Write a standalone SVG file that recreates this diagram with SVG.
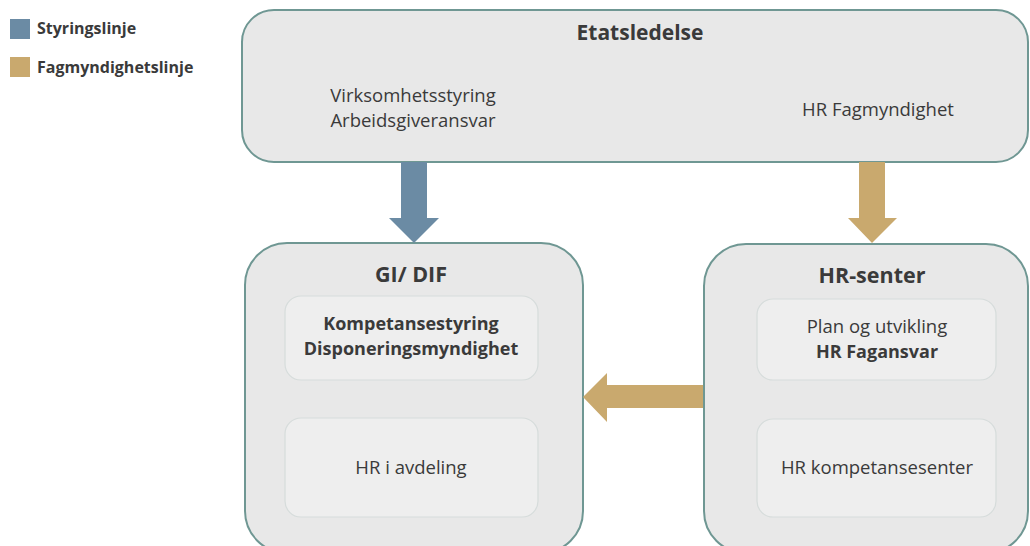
<svg xmlns="http://www.w3.org/2000/svg" width="1030" height="546" viewBox="0 0 1030 546">
<style>
.outer{fill:#e8e8e8;stroke:#6f9793;stroke-width:2}
.inner{fill:#eeeeee;stroke:#d6dcdb;stroke-width:1.2}
text{font-family:"Open Sans","Liberation Sans",sans-serif;fill:#3a3a3a;text-anchor:middle}
.b{font-weight:bold}
.t{font-size:21px}
.n{font-size:18.5px}
.nb{font-size:18px}
.leg{font-size:16px;font-weight:bold;text-anchor:start}
</style>
<rect width="1030" height="546" fill="#ffffff"/>
<g id="legend">
<rect x="10" y="19" width="20" height="20" fill="#6b8ba4"/>
<text class="leg" x="37" y="34">Styringslinje</text>
<rect x="10" y="57" width="20" height="20" fill="#c9a96e"/>
<text class="leg" x="37" y="73">Fagmyndighetslinje</text>
</g>
<g id="etatsledelse">
<rect class="outer" x="242" y="10" width="786" height="152" rx="32"/>
<text class="b t" x="640" y="40">Etatsledelse</text>
<text class="n" x="413" y="102">Virksomhetsstyring</text>
<text class="n" x="413" y="127">Arbeidsgiveransvar</text>
<text class="n" x="878" y="116">HR Fagmyndighet</text>
</g>
<g id="gi-dif">
<rect class="outer" x="245" y="243" width="338" height="310" rx="42"/>
<text class="b t" x="411" y="282" style="font-size:21.5px">GI/ DIF</text>
<g id="kompetansestyring">
<rect class="inner" x="285" y="296" width="253" height="84" rx="16"/>
<text class="b nb" x="411" y="330">Kompetansestyring</text>
<text class="b nb" x="411" y="355">Disponeringsmyndighet</text>
</g>
<g id="hr-i-avdeling">
<rect class="inner" x="285" y="418" width="253" height="99" rx="16"/>
<text class="n" x="411" y="474">HR i avdeling</text>
</g>
</g>
<g id="hr-senter">
<rect class="outer" x="704" y="244" width="324" height="309" rx="42"/>
<text class="b t" x="872" y="283" style="font-size:21.5px">HR-senter</text>
<g id="plan">
<rect class="inner" x="757" y="299" width="239" height="81" rx="16"/>
<text class="n" x="877" y="333">Plan og utvikling</text>
<text class="b nb" x="877" y="358">HR Fagansvar</text>
</g>
<g id="hr-kompetansesenter">
<rect class="inner" x="757" y="419" width="239" height="98" rx="16"/>
<text class="n" x="877" y="474">HR kompetansesenter</text>
</g>
</g>
<g id="connectors">
<polygon fill="#6b8ba4" points="401,162 427,162 427,218 439,218 414,243 389,218 401,218"/>
<polygon fill="#c9a96e" points="859,162 885,162 885,218 897,218 872,243 848,218 859,218"/>
<polygon fill="#c9a96e" points="703,385 703,408 607,408 607,422 583,397 607,373 607,385"/>
</g>
</svg>
